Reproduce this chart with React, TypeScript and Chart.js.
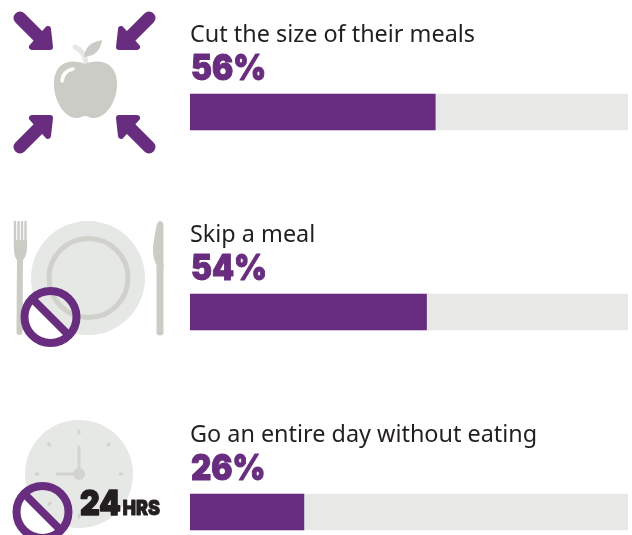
import React, { useEffect, useRef } from "react";
import { Chart, registerables } from "chart.js";

Chart.register(...registerables);

const categories = ["Cut the size of their meals", "Skip a meal", "Go an entire day without eating"];
const rowPositions = [0, 1, 2];
const percentValues = [56, 54, 26];
const trackValues = [100, 100, 100];
const percentLabels = ["56%", "54%", "26%"];

const PURPLE = "#682d7f";
const TRACK = "#e8e9e7";
const GREY = "#cbccc6";
const LIGHT = "#e6e8e5";
const INK = "#231f20";
const TEXT_FONT = '"Noto Sans", sans-serif';
const HEAVY_FONT = 'Inter, Roboto, sans-serif';

type Ctx = CanvasRenderingContext2D;

function heavyText(ctx: Ctx, text: string, x: number, y: number, size: number, stroke: number, color: string) {
  ctx.save();
  ctx.translate(x, y);
  ctx.scale(0.9, 1);
  ctx.font = `900 ${size}px ${HEAVY_FONT}`;
  ctx.fillStyle = color;
  ctx.strokeStyle = color;
  ctx.lineWidth = stroke;
  ctx.lineJoin = "round";
  ctx.strokeText(text, 0, 0);
  ctx.fillText(text, 0, 0);
  ctx.restore();
}

function arrow(ctx: Ctx, sx: number, sy: number) {
  // Draws the top-left arrow, mirrored with sx / sy around the apple's centre.
  ctx.save();
  ctx.translate(84.5, 82.5);
  ctx.scale(sx, sy);
  ctx.translate(-84.5, -82.5);
  ctx.strokeStyle = PURPLE;
  ctx.fillStyle = PURPLE;
  ctx.lineCap = "round";
  ctx.lineJoin = "round";
  ctx.lineWidth = 13;
  ctx.beginPath();
  ctx.moveTo(20, 18);
  ctx.lineTo(44, 42);
  ctx.stroke();
  ctx.lineWidth = 6;
  ctx.beginPath();
  ctx.moveTo(32, 47);
  ctx.lineTo(50, 47);
  ctx.lineTo(48, 29);
  ctx.closePath();
  ctx.fill();
  ctx.stroke();
  ctx.restore();
}

function apple(ctx: Ctx) {
  ctx.save();
  ctx.strokeStyle = LIGHT;
  ctx.lineWidth = 5;
  ctx.lineCap = "round";
  ctx.beginPath();
  ctx.moveTo(75, 47);
  ctx.quadraticCurveTo(86, 52, 86.5, 67);
  ctx.stroke();
  ctx.fillStyle = GREY;
  ctx.beginPath();
  ctx.moveTo(84, 57);
  ctx.quadraticCurveTo(85, 43, 102, 40);
  ctx.quadraticCurveTo(100, 56, 84, 57);
  ctx.fill();
  ctx.beginPath();
  ctx.moveTo(85, 64);
  ctx.bezierCurveTo(75, 59, 54, 59, 54, 84);
  ctx.bezierCurveTo(54, 103, 66, 118, 76, 118);
  ctx.bezierCurveTo(81, 118, 82, 116, 85, 116);
  ctx.bezierCurveTo(88, 116, 89, 118, 94, 118);
  ctx.bezierCurveTo(105, 118, 117, 103, 117, 84);
  ctx.bezierCurveTo(117, 59, 95, 59, 85, 64);
  ctx.fill();
  ctx.strokeStyle = "#ffffff";
  ctx.lineWidth = 3.5;
  ctx.beginPath();
  ctx.moveTo(62, 81);
  ctx.quadraticCurveTo(63, 71, 73, 69);
  ctx.stroke();
  ctx.restore();
}

function noSign(ctx: Ctx, x: number, y: number) {
  ctx.save();
  ctx.strokeStyle = PURPLE;
  ctx.lineWidth = 8;
  ctx.beginPath();
  ctx.arc(x, y, 26, 0, Math.PI * 2);
  ctx.stroke();
  ctx.beginPath();
  const d = 18.5;
  ctx.moveTo(x - d, y - d);
  ctx.lineTo(x + d, y + d);
  ctx.stroke();
  ctx.restore();
}

function plate(ctx: Ctx) {
  ctx.save();
  ctx.fillStyle = LIGHT;
  ctx.beginPath();
  ctx.arc(88, 278, 57, 0, Math.PI * 2);
  ctx.fill();
  ctx.strokeStyle = "#d0d1cb";
  ctx.lineWidth = 5;
  ctx.beginPath();
  ctx.arc(88.5, 278, 39.5, 0, Math.PI * 2);
  ctx.stroke();

  // fork
  ctx.fillStyle = GREY;
  ctx.strokeStyle = GREY;
  ctx.lineCap = "round";
  ctx.lineWidth = 2.4;
  for (const x of [15, 18.5, 22, 25.5]) {
    ctx.beginPath();
    ctx.moveTo(x, 222);
    ctx.lineTo(x, 245);
    ctx.stroke();
  }
  ctx.beginPath();
  ctx.moveTo(14, 240);
  ctx.lineTo(27, 240);
  ctx.quadraticCurveTo(28, 256, 23, 260);
  ctx.lineTo(17, 260);
  ctx.quadraticCurveTo(13, 256, 14, 240);
  ctx.fill();
  ctx.lineWidth = 6;
  ctx.beginPath();
  ctx.moveTo(20, 258);
  ctx.lineTo(19.5, 332);
  ctx.stroke();

  // knife
  ctx.lineWidth = 7;
  ctx.beginPath();
  ctx.moveTo(160, 266);
  ctx.lineTo(160, 332);
  ctx.stroke();
  ctx.beginPath();
  ctx.moveTo(160, 221);
  ctx.quadraticCurveTo(164, 221, 163.5, 228);
  ctx.lineTo(163.5, 268);
  ctx.lineTo(158, 268);
  ctx.quadraticCurveTo(152, 258, 153, 247);
  ctx.quadraticCurveTo(155, 232, 157, 224);
  ctx.quadraticCurveTo(158, 221, 160, 221);
  ctx.fill();
  ctx.restore();
  noSign(ctx, 50.5, 317);
}

function clock(ctx: Ctx) {
  const cx = 79;
  const cy = 474;
  ctx.save();
  ctx.fillStyle = LIGHT;
  ctx.beginPath();
  ctx.arc(cx, cy, 54, 0, Math.PI * 2);
  ctx.fill();
  ctx.strokeStyle = "#d3d4ce";
  ctx.fillStyle = "#d3d4ce";
  ctx.lineCap = "round";
  ctx.lineWidth = 3;
  for (const deg of [0, 45, 90, 180, 225, 270, 315]) {
    const a = (deg * Math.PI) / 180;
    ctx.beginPath();
    ctx.moveTo(cx + Math.sin(a) * 41, cy - Math.cos(a) * 41);
    ctx.lineTo(cx + Math.sin(a) * 43, cy - Math.cos(a) * 43);
    ctx.stroke();
  }
  ctx.beginPath();
  ctx.moveTo(cx, cy);
  ctx.lineTo(cx, cy - 27);
  ctx.moveTo(cx, cy);
  ctx.lineTo(cx - 22, cy);
  ctx.stroke();
  ctx.beginPath();
  ctx.arc(cx, cy, 6, 0, Math.PI * 2);
  ctx.fill();
  ctx.restore();
  noSign(ctx, 42.5, 512);

  ctx.save();
  ctx.textAlign = "left";
  ctx.textBaseline = "alphabetic";
  heavyText(ctx, "24", 80, 515, 34, 1.5, INK);
  heavyText(ctx, "HRS", 122.5, 515, 20, 0.8, INK);
  ctx.restore();
}

const decorPlugin = {
  id: "decor",
  afterDatasetsDraw(chart: Chart) {
    const ctx = chart.ctx as Ctx;
    const meta = chart.getDatasetMeta(0);
    meta.data.forEach((bar: any, i: number) => {
      const top = bar.y - bar.height / 2;
      ctx.save();
      ctx.textAlign = "left";
      ctx.textBaseline = "alphabetic";
      ctx.fillStyle = INK;
      ctx.font = `400 23.4px ${TEXT_FONT}`;
      ctx.fillText(categories[i], chart.chartArea.left, top - 52);
      heavyText(ctx, percentLabels[i], chart.chartArea.left + 1, top - 14, 35, 1, PURPLE);
      ctx.restore();
    });
    for (const [sx, sy] of [[1, 1], [-1, 1], [1, -1], [-1, -1]]) arrow(ctx, sx, sy);
    apple(ctx);
    plate(ctx);
    clock(ctx);
  },
};

export default function App() {
  const ref = useRef<HTMLCanvasElement>(null);
  useEffect(() => {
    document.body.style.margin = "0";
    const chart = new Chart(ref.current!, {
      type: "bar",
      data: {
        labels: categories,
        datasets: [
          {
            label: "Share",
            data: rowPositions.map((y, i) => ({ x: percentValues[i], y })),
            backgroundColor: PURPLE,
            order: 1,
            grouped: false,
            barThickness: 36,
          },
          {
            label: "Track",
            data: rowPositions.map((y, i) => ({ x: trackValues[i], y })),
            backgroundColor: TRACK,
            order: 2,
            grouped: false,
            barThickness: 36,
          },
        ],
      } as any,
      options: {
        indexAxis: "y",
        animation: false,
        responsive: false,
        layout: { padding: { left: 190, right: 4, top: 0, bottom: 0 } },
        plugins: { legend: { display: false }, tooltip: { enabled: false } },
        scales: {
          x: { type: "linear", min: 0, max: 100, display: false },
          y: { type: "linear", min: -0.56, max: 2.115, reverse: true, offset: false, display: false },
        },
      } as any,
      plugins: [decorPlugin as any],
    });
    return () => chart.destroy();
  }, []);
  return <canvas ref={ref} width={632} height={535} style={{ display: "block" }} />;
}
